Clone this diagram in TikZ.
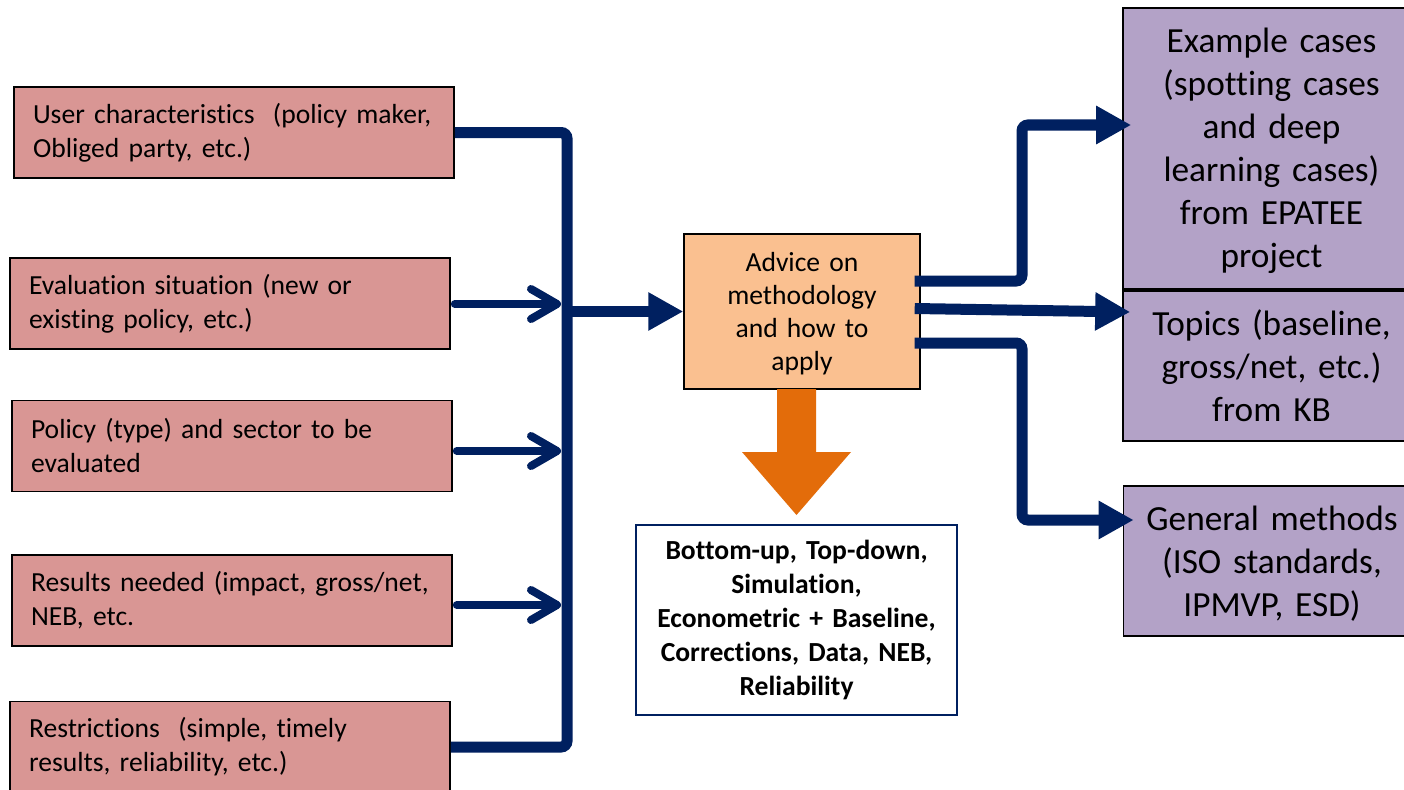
\documentclass[tikz,border=0pt]{standalone}
\usepackage{fontspec}
\setmainfont{Carlito}[Ligatures=NoCommon,WordSpace=0.8]
\usetikzlibrary{arrows.meta,calc}
\definecolor{navy}{RGB}{0,32,96}
\definecolor{leftfill}{RGB}{217,150,148}
\definecolor{advfill}{RGB}{250,192,144}
\definecolor{rightfill}{RGB}{179,162,199}
\definecolor{orangearr}{RGB}{227,108,10}
\tikzset{
  inbox/.style={draw=black, line width=1.6pt, fill=leftfill, minimum width=440pt, minimum height=91pt,
    text width=402pt, inner xsep=19pt, inner ysep=0pt, align=left,
    font=\fontsize{27.6}{34}\selectfont},
  outbox/.style={draw=black, line width=1.6pt, fill=rightfill, minimum width=297pt, inner sep=0pt},
  outtext/.style={inner sep=0pt, text width=290pt, align=center, font=\fontsize{35.3}{43}\selectfont},
  advbox/.style={draw=black, line width=1.4pt, fill=advfill, minimum width=236pt, minimum height=155pt,
    inner sep=0pt, text width=230pt, align=center, font=\fontsize{27.6}{33}\selectfont},
  methbox/.style={draw=navy, line width=1.4pt, fill=white, minimum width=321pt, minimum height=190pt,
    inner sep=0pt, text width=315pt, align=center, font=\bfseries\fontsize{27.6}{34}\selectfont},
  bus/.style={draw=navy, line width=11pt, rounded corners=6pt},
  inarrow/.style={draw=navy, line width=8pt, line cap=round, -{Straight Barb[length=26pt,width=30pt,round]}},
  bigarrow/.style={draw=navy, line width=11pt, rounded corners=6pt, -{Triangle[length=35pt,width=36pt]}},
}
\begin{document}
\begin{tikzpicture}[x=1pt,y=-1pt]
\path[use as bounding box] (0,0) rectangle (1404,789);
\clip (0,0) rectangle (1404,789);
\fill[white] (0,0) rectangle (1404,789);

% left input boxes
\node[inbox] (b1) at (234,132.5) {\mbox{User characteristics\ \ (policy maker,}\\\mbox{Obliged party, etc.)}};
\node[inbox] (b2) at (230,303.5) {\mbox{Evaluation situation (new or}\\\mbox{existing policy, etc.)}};
\node[inbox] (b3) at (232,446) {\mbox{Policy (type) and sector to be}\\\mbox{evaluated}};
\node[inbox] (b4) at (232,600.5) {\mbox{Results needed (impact, gross/net,}\\\mbox{NEB, etc.}};
\node[inbox] (b5) at (230,747) {\mbox{Restrictions\ \ (simple, timely}\\\mbox{results, reliability, etc.)}};

% central box
\node[advbox] (adv) at (802,311.5) {\strut\\[-33pt]Advice on\\methodology\\and how to\\apply};

% methods box
\node[methbox] (meth) at (796.5,620) {Bottom-up, Top-down,\\Simulation,\\Econometric + Baseline,\\Corrections, Data, NEB,\\Reliability};

% right output boxes
\node[outbox, minimum height=281pt] (exA) at (1271.5,148.5) {};
\node[outtext] (exAt) at ([yshift=-2.5pt]exA.center) {Example cases\\(spotting cases\\and deep\\learning cases)\\from EPATEE\\project};
\node[outbox, minimum height=150pt] (top) at (1271.5,366) {};
\node[outtext] (topt) at (top.center) {Topics (baseline,\\gross/net, etc.)\\from KB};
\node[outbox, minimum height=150pt] (gm) at (1272,561) {};
\node[outtext] (gmt) at ([yshift=-3pt]gm.center) {General methods\\(ISO standards,\\IPMVP, ESD)};

% bus on the left
\coordinate (btop) at (567,132.5);
\coordinate (bbot) at (567,747);
\draw[bus] (b1.east) -- (btop) -- (bbot) -- (b5.east);

% input arrows
\coordinate (j2) at (561,304);
\coordinate (j3) at (561,451);
\coordinate (j4) at (561,605);
\draw[inarrow] ([xshift=4pt]b2.east |- j2) -- (j2);
\draw[inarrow] ([xshift=4pt]b3.east |- j3) -- (j3);
\draw[inarrow] ([xshift=4pt]b4.east |- j4) -- (j4);

% bus to advice box
\coordinate (j0) at (567,311.5);
\draw[bigarrow] (j0) -- (adv.west);

% orange block arrow
\fill[orangearr] (777,389) -- (816,389) -- (816,452) -- (851,452) -- (796.5,515) -- (742,452) -- (777,452) -- cycle;

% output arrows
\coordinate (k1) at (1022,125);
\coordinate (k3) at (1022,520);
\draw[bigarrow] ([xshift=-6pt,yshift=30.5pt]adv.east) -| (k1) -- ([xshift=9pt,yshift=23.5pt]exA.west);
\draw[bigarrow] ([xshift=-6pt,yshift=3pt]adv.east) -- ([xshift=8pt,yshift=54pt]top.west);
\draw[bigarrow] ([xshift=-6pt,yshift=-31.5pt]adv.east) -| (k3) -- ([xshift=11pt,yshift=41pt]gm.west);
\end{tikzpicture}
\end{document}
